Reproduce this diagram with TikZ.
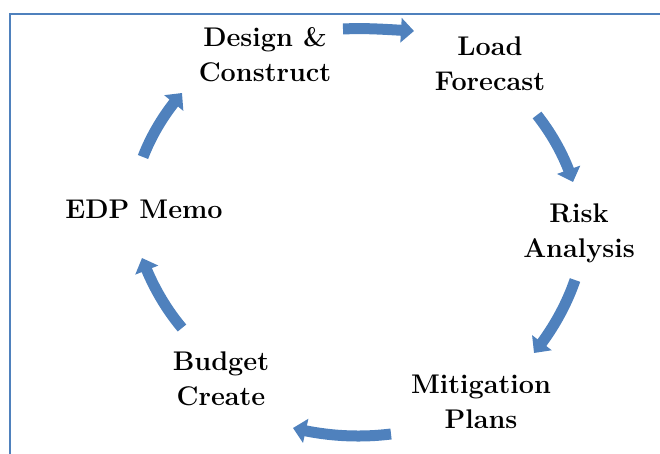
\documentclass[tikz,border=0pt]{standalone}
\usetikzlibrary{arrows.meta,bending}
\definecolor{cycleblue}{RGB}{79,129,189}
\begin{document}
\begin{tikzpicture}[x=1pt,y=-1pt,
  stage/.style={align=center, font=\fontsize{27}{35}\selectfont\bfseries,
                text=black, inner sep=0pt},
  flow/.style={draw=cycleblue, line width=11pt,
               -{Triangle[length=13pt,width=24pt]}}]
\useasboundingbox (0,0) rectangle (660,453);
\clip (0,0) rectangle (660,453);

% frame
\draw[cycleblue, line width=2.2pt] (10,14) rectangle (690,490);

% stages of the cycle
\node[stage] (design)  at (265,55)  {Design \&\\Construct};
\node[stage] (load)    at (490,64)  {Load\\Forecast};
\node[stage] (risk)    at (579,233) {Risk\\Analysis};
\node[stage] (mitig)   at (481,402) {Mitigation\\Plans};
\node[stage] (budget)  at (221,379) {Budget\\Create};
\node[stage] (edp)     at (144,209) {EDP Memo};

% arrow ends between the stages
\coordinate (a1s) at (343,29);  \coordinate (a1e) at (414,31);
\coordinate (a2s) at (537,115); \coordinate (a2e) at (573,182);
\coordinate (a3s) at (575,280); \coordinate (a3e) at (534,353);
\coordinate (a4s) at (391,434); \coordinate (a4e) at (293,428);
\coordinate (a5s) at (182,328); \coordinate (a5e) at (142,258);
\coordinate (a6s) at (143,157); \coordinate (a6e) at (182,93);

% gently curved arrows running clockwise
\draw[flow] (a1s) .. controls +(-3:24)  and +(183:24) .. (a1e);
\draw[flow] (a2s) .. controls +(52:26)  and +(252:26) .. (a2e);
\draw[flow] (a3s) .. controls +(109:28) and +(309:28) .. (a3e);
\draw[flow] (a4s) .. controls +(173:33) and +(14:33)  .. (a4e);
\draw[flow] (a5s) .. controls +(230:27) and +(70:27)  .. (a5e);
\draw[flow] (a6s) .. controls +(291:25) and +(131:25) .. (a6e);
\end{tikzpicture}
\end{document}
